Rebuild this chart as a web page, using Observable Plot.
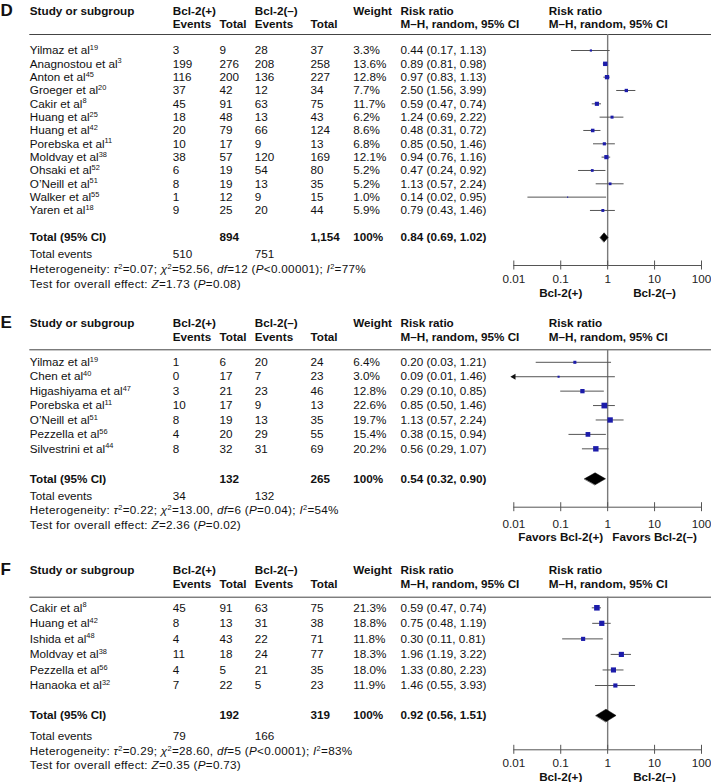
<!DOCTYPE html>
<html><head><meta charset="utf-8">
<script src="https://cdn.jsdelivr.net/npm/d3@7"></script>
<script src="https://cdn.jsdelivr.net/npm/@observablehq/plot@0.6"></script>
<style>
body{margin:0;background:#fff;}
#chart svg{display:block;}
</style></head><body><div id="chart"></div>
<script>
// ---------- shared labels ----------
const headTop = ["Study or subgroup","Bcl-2(+)","Bcl-2(–)","Weight","Risk ratio","Risk ratio"];
const headSub = ["Events","Total","Events","Total","M–H, random, 95% CI","M–H, random, 95% CI"];
const tickVals = [0.01, 0.1, 1, 10, 100];
const sideLabelsPlain = ["Bcl-2(+)","Bcl-2(–)"];
const sideLabelsFavors = ["Favors Bcl-2(+)","Favors Bcl-2(–)"];
const sideAt = [0.1, 10];

// ---------- Panel D ----------
const studiesD = ["Yilmaz et al","Anagnostou et al","Anton et al","Groeger et al","Cakir et al","Huang et al","Huang et al","Porebska et al","Moldvay et al","Ohsaki et al","O’Neill et al","Walker et al","Yaren et al"];
const refsD = ["19","3","45","20","8","25","42","11","38","52","51","55","18"];
const evPosD = [3,199,116,37,45,18,20,10,38,6,8,1,9];
const totPosD = [9,276,200,42,91,48,79,17,57,19,19,12,25];
const evNegD = [28,208,136,12,63,13,66,9,120,54,13,9,20];
const totNegD = [37,258,227,34,75,43,124,13,169,80,35,15,44];
const weightD = [3.3,13.6,12.8,7.7,11.7,6.2,8.6,6.8,12.1,5.2,5.2,1.0,5.9];
const rrD = [0.44,0.89,0.97,2.50,0.59,1.24,0.48,0.85,0.94,0.47,1.13,0.14,0.79];
const loD = [0.17,0.81,0.83,1.56,0.47,0.69,0.31,0.50,0.76,0.24,0.57,0.02,0.43];
const hiD = [1.13,0.98,1.13,3.99,0.74,2.22,0.72,1.46,1.16,0.92,2.24,0.95,1.46];
const totalsD = ["894","1,154"];
const eventsD = ["510","751"];
const pooledD = [0.84,0.69,1.02];
const hetD = ["0.07","52.56","12","<0.00001","77"];
const testD = ["1.73","=0.08"];

// ---------- Panel E ----------
const studiesE = ["Yilmaz et al","Chen et al","Higashiyama et al","Porebska et al","O’Neill et al","Pezzella et al","Silvestrini et al"];
const refsE = ["19","40","47","11","51","56","44"];
const evPosE = [1,0,3,10,8,4,8];
const totPosE = [6,17,21,17,19,20,32];
const evNegE = [20,7,23,9,13,29,31];
const totNegE = [24,23,46,13,35,55,69];
const weightE = [6.4,3.0,12.8,22.6,19.7,15.4,20.2];
const rrE = [0.20,0.09,0.29,0.85,1.13,0.38,0.56];
const loE = [0.03,0.01,0.10,0.50,0.57,0.15,0.29];
const hiE = [1.21,1.46,0.85,1.46,2.24,0.94,1.07];
const totalsE = ["132","265"];
const eventsE = ["34","132"];
const pooledE = [0.54,0.32,0.90];
const hetE = ["0.22","13.00","6","=0.04","54"];
const testE = ["2.36","=0.02"];

// ---------- Panel F ----------
const studiesF = ["Cakir et al","Huang et al","Ishida et al","Moldvay et al","Pezzella et al","Hanaoka et al"];
const refsF = ["8","42","48","38","56","32"];
const evPosF = [45,8,4,11,4,7];
const totPosF = [91,13,43,18,5,22];
const evNegF = [63,31,22,24,21,5];
const totNegF = [75,38,71,77,35,23];
const weightF = [21.3,18.8,11.8,18.3,18.0,11.9];
const rrF = [0.59,0.75,0.30,1.96,1.33,1.46];
const loF = [0.47,0.48,0.11,1.19,0.80,0.55];
const hiF = [0.74,1.19,0.81,3.22,2.23,3.93];
const totalsF = ["192","319"];
const eventsF = ["79","166"];
const pooledF = [0.92,0.56,1.51];
const hetF = ["0.29","28.60","5","<0.0001","83"];
const testF = ["0.35","=0.73"];

// ---------- layout (pixels) ----------
const COL = {name: 29.3, ep: 172.3, tp: 219, en: 254.3, tn: 310, w: 352.7, rr: 400, rh: 548.3};
const headTopX = [COL.name, COL.ep, COL.en, COL.w, COL.rr, COL.rh];
const headSubX = [COL.ep, COL.tp, COL.en, COL.tn, COL.rr, COL.rh];
const LD = {height: 300, h1: 11, h2: 24, line: 34, row0: 50, step: 13.33, total: 236.9, totEv: 254, het: 269, test: 283.5, axis: 265, tick: 279, side: 292.3, dh: 4.6, letterY: 10};
const LE = {height: 248, h1: 23, h2: 37, line: 49.3, row0: 61.8, step: 14.42, total: 178.3, totEv: 195.8, het: 210, test: 224.3, axis: 206.7, tick: 224, side: 236.8, dh: 6, letterY: 22};
const LF = {height: 234, h1: 22, h2: 36, line: 48.7, row0: 59.3, step: 15.54, total: 167, totEv: 188, het: 202.7, test: 216.3, axis: 201.3, tick: 214.7, side: 228.7, dh: 6.3, letterY: 21};

const INK = "#111";
const fmt2 = v => v.toFixed(2);
const ci = (r, lo, hi) => `${fmt2(r)} (${fmt2(lo)}, ${fmt2(hi)})`;

function panel(letter, d, L, sideLabels) {
  const Y = px => (px - L.row0) / L.step;
  const rows = d.studies.map((s, i) => ({
    i, name: s, ref: d.refs[i], ep: String(d.evPos[i]), tp: String(d.totPos[i]),
    en: String(d.evNeg[i]), tn: String(d.totNeg[i]), w: d.weight[i],
    wt: d.weight[i].toFixed(1) + "%", rr: d.rr[i], lo: d.lo[i], hi: d.hi[i],
    ci: ci(d.rr[i], d.lo[i], d.hi[i])
  }));
  const col = (field, dx, extra = {}) => Plot.text(rows, {y: "i", text: field, frameAnchor: "left", textAnchor: "start", dx, fill: INK, ...extra});
  const one = (txt, dx, py, extra = {}) => Plot.text([txt], {y: Y(py), text: t => t, frameAnchor: "left", textAnchor: "start", dx, fill: INK, ...extra});
  const t = Y(L.total), h = L.dh / L.step;
  const [pr, pl, ph] = d.pooled;
  const diamond = [{x: pl, y: t}, {x: pr, y: t - h}, {x: ph, y: t}, {x: pr, y: t + h}];
  const hetStr = `Heterogeneity: τ2=${d.het[0]}; χ2=${d.het[1]}, df=${d.het[2]} (P${d.het[3]}); I2=${d.het[4]}%`;
  const testStr = `Test for overall effect: Z=${d.test[0]} (P${d.test[1]})`;

  const svg = Plot.plot({
    width: 711, height: L.height, margin: 0,
    style: {fontFamily: "'Liberation Sans', Arial, Helvetica, sans-serif", fontSize: "11.7px", background: "#fff", color: INK, overflow: "visible"},
    x: {type: "log", domain: [0.01, 100], range: [513.3, 701], axis: null},
    y: {type: "linear", domain: [0, 1], range: [L.row0, L.row0 + L.step], axis: null},
    r: {type: "sqrt", domain: [0, 25], range: [0, 3.4]},
    marks: [
      // panel letter
      one(letter, 0, L.letterY, {fontWeight: "bold", fontSize: 17}),
      // headers
      ...headTop.map((hd, k) => one(hd, headTopX[k], L.h1, {fontWeight: "bold"})),
      ...headSub.map((hd, k) => one(hd, headSubX[k], L.h2, {fontWeight: "bold"})),
      Plot.ruleY([Y(L.line)], {insetLeft: COL.name, stroke: "#444", strokeWidth: 1}),
      // table rows
      col("name", COL.name, {ariaLabel: () => "study-name"}),
      col("ep", COL.ep), col("tp", COL.tp), col("en", COL.en), col("tn", COL.tn),
      col("wt", COL.w), col("ci", COL.rr),
      // totals
      one("Total (95% CI)", COL.name, L.total, {fontWeight: "bold"}),
      one(d.totals[0], COL.tp, L.total, {fontWeight: "bold"}),
      one(d.totals[1], COL.tn, L.total, {fontWeight: "bold"}),
      one("100%", COL.w, L.total, {fontWeight: "bold"}),
      one(ci(pr, pl, ph), COL.rr, L.total, {fontWeight: "bold"}),
      one("Total events", COL.name, L.totEv),
      one(d.events[0], COL.ep, L.totEv),
      one(d.events[1], COL.en, L.totEv),
      one(hetStr, COL.name, L.het, {ariaLabel: () => "het-line"}),
      one(testStr, COL.name, L.test, {ariaLabel: () => "test-line"}),
      // forest plot
      Plot.ruleX([1], {y1: Y(L.line), y2: Y(L.axis), stroke: "#7a7a7a", strokeWidth: 1.4}),
      Plot.ruleY(rows, {y: "i", x1: "lo", x2: "hi", stroke: "#555", strokeWidth: 1}),
      Plot.dot(rows.filter(r => r.lo <= 0.01), {x: "lo", y: "i", symbol: "triangle", rotate: -90, r: 2.2, fill: INK, stroke: null}),
      Plot.dot(rows, {x: "rr", y: "i", r: "w", symbol: "square", fill: "#1c1caa", stroke: null}),
      Plot.line(diamond, {x: "x", y: "y", curve: "linear-closed", fill: "#000", stroke: "#000", strokeWidth: 0.5}),
      // axis
      Plot.ruleY([Y(L.axis)], {x1: 0.01, x2: 100, stroke: "#555", strokeWidth: 1}),
      Plot.ruleX(tickVals, {x: v => v, y1: Y(L.axis - 4.5), y2: Y(L.axis + 4.5), stroke: "#555", strokeWidth: 1}),
      Plot.text(tickVals, {x: v => v, y: Y(L.tick), text: v => String(v), fill: "#222"}),
      Plot.text(sideLabels, {x: (s, i) => sideAt[i], y: Y(L.side), text: s => s, fontWeight: "bold", fill: INK})
    ]
  });

  const S = d3.select(svg);
  // superscript references
  S.selectAll('text[aria-label="study-name"]').each(function(_, k) {
    d3.select(this).append("tspan").attr("dy", "-4.2").attr("font-size", "7.4px").text(rows[k].ref);
  });
  // rich formatting for statistics lines
  const rich = (label, segs) => {
    const el = S.select(`text[aria-label="${label}"]`);
    if (el.empty()) return;
    el.text(null).attr("letter-spacing", "0.3px");
    let up = false;
    for (const [txt, kind] of segs) {
      const ts = el.append("tspan").text(txt);
      if (kind === "i") ts.attr("font-style", "italic");
      if (kind === "s") { ts.attr("font-size", "7.4px").attr("dy", "-4.2"); up = true; }
      else if (up) { ts.attr("dy", "4.2"); up = false; }
    }
  };
  rich("het-line", [["Heterogeneity: "],["τ","i"],["2","s"],[`=${d.het[0]}; `],["χ","i"],["2","s"],[`=${d.het[1]}, `],["df","i"],[`=${d.het[2]} (`],["P","i"],[`${d.het[3]}); `],["I","i"],["2","s"],[`=${d.het[4]}%`]]);
  rich("test-line", [["Test for overall effect: "],["Z","i"],[`=${d.test[0]} (`],["P","i"],[`${d.test[1]})`]]);
  return svg;
}

const chart = document.getElementById("chart");
chart.append(
  panel("D", {studies: studiesD, refs: refsD, evPos: evPosD, totPos: totPosD, evNeg: evNegD, totNeg: totNegD, weight: weightD, rr: rrD, lo: loD, hi: hiD, totals: totalsD, events: eventsD, pooled: pooledD, het: hetD, test: testD}, LD, sideLabelsPlain),
  panel("E", {studies: studiesE, refs: refsE, evPos: evPosE, totPos: totPosE, evNeg: evNegE, totNeg: totNegE, weight: weightE, rr: rrE, lo: loE, hi: hiE, totals: totalsE, events: eventsE, pooled: pooledE, het: hetE, test: testE}, LE, sideLabelsFavors),
  panel("F", {studies: studiesF, refs: refsF, evPos: evPosF, totPos: totPosF, evNeg: evNegF, totNeg: totNegF, weight: weightF, rr: rrF, lo: loF, hi: hiF, totals: totalsF, events: eventsF, pooled: pooledF, het: hetF, test: testF}, LF, sideLabelsPlain)
);
</script></body></html>
